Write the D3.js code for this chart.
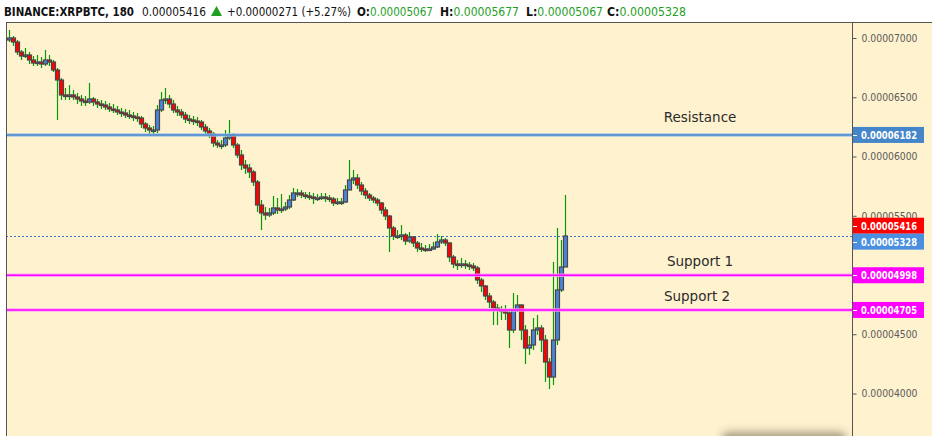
<!DOCTYPE html>
<html><head><meta charset="utf-8">
<script src="https://cdn.jsdelivr.net/npm/d3@7"></script>
<style>body{margin:0;background:#fff;overflow:hidden}svg{display:block}</style>
</head><body>
<svg id="chart" width="932" height="436"></svg>
<script>
// Prices in satoshi (1e-8 BTC)
const openSat = [6983,7000,6966,6882,6848,6856,6814,6789,6797,6780,
 6814,6797,6730,6645,6518,6510,6518,6501,6484,6467,
 6459,6484,6459,6442,6434,6417,6400,6392,6375,6366,
 6349,6341,6332,6324,6273,6239,6223,6223,6392,6476,
 6484,6442,6392,6375,6349,6315,6307,6299,6290,6248,
 6214,6189,6113,6096,6096,6155,6180,6096,6011,5927,
 5901,5867,5783,5589,5521,5504,5521,5563,5546,5555,
 5572,5631,5690,5690,5673,5665,5656,5648,5648,5656,
 5648,5639,5606,5614,5614,5715,5800,5817,5758,5707,
 5673,5648,5631,5606,5546,5496,5394,5327,5327,5335,
 5284,5318,5267,5225,5217,5208,5217,5234,5276,5293,
 5267,5149,5090,5082,5090,5082,5073,5056,4955,4904,
 4820,4769,4718,4701,4693,4676,4532,4701,4744,4532,
 4380,4406,4532,4549,4448,4262,4135,4448,4870,5067];
const highSat = [7068,7017,6983,6899,6915,6882,6848,6856,6839,6899,
 6856,6814,6746,6662,6577,6603,6561,6535,6518,6510,
 6620,6501,6484,6476,6467,6450,6442,6425,6408,6400,
 6392,6375,6366,6341,6290,6265,6256,6434,6544,6577,
 6518,6476,6425,6400,6375,6349,6341,6332,6307,6273,
 6239,6206,6138,6138,6223,6307,6197,6113,6054,5969,
 5935,5885,5800,5631,5572,5563,5665,5648,5682,5614,
 5673,5732,5724,5715,5698,5698,5690,5682,5690,5690,
 5673,5656,5648,5648,5758,5969,5885,5851,5783,5732,
 5690,5665,5648,5614,5572,5504,5411,5377,5420,5352,
 5360,5327,5284,5267,5251,5259,5276,5344,5327,5310,
 5276,5166,5124,5141,5124,5107,5099,5073,4972,4913,
 4845,4786,4752,4735,4744,4701,4845,4828,4752,4575,
 4482,4634,4659,4575,4490,4296,5107,5394,5293,5677];
const lowSat = [6966,6932,6856,6814,6831,6780,6763,6763,6746,6763,
 6763,6713,6307,6476,6476,6476,6476,6442,6425,6425,
 6442,6425,6408,6400,6392,6375,6366,6349,6332,6324,
 6315,6299,6290,6239,6206,6189,6189,6197,6375,6442,
 6408,6366,6341,6324,6282,6273,6265,6256,6223,6189,
 6155,6079,6070,6062,6079,6138,6070,5986,5885,5851,
 5817,5749,5529,5377,5462,5487,5504,5513,5521,5538,
 5555,5622,5656,5648,5639,5631,5597,5622,5631,5614,
 5614,5580,5589,5589,5606,5715,5766,5724,5673,5639,
 5622,5606,5580,5513,5462,5191,5293,5301,5293,5251,
 5268,5234,5191,5191,5191,5200,5208,5225,5259,5242,
 5107,5056,5039,5056,5048,5039,5031,4921,4853,4786,
 4718,4575,4575,4617,4617,4380,4507,4684,4448,4253,
 4321,4363,4490,4346,4101,4034,4068,4406,4853,5067];
const closeSat = [7000,6966,6882,6848,6856,6814,6789,6797,6780,6814,
 6797,6730,6645,6518,6510,6518,6501,6484,6467,6459,
 6484,6459,6442,6434,6417,6400,6392,6375,6366,6349,
 6341,6332,6324,6273,6239,6223,6223,6392,6476,6484,
 6442,6392,6375,6349,6315,6307,6299,6290,6248,6214,
 6189,6113,6096,6096,6155,6180,6096,6011,5927,5901,
 5867,5783,5589,5521,5504,5521,5563,5546,5555,5572,
 5631,5690,5690,5673,5665,5656,5648,5648,5656,5648,
 5639,5606,5614,5614,5715,5800,5817,5758,5707,5673,
 5648,5631,5606,5546,5496,5394,5327,5327,5335,5284,
 5318,5267,5225,5217,5208,5217,5234,5276,5293,5267,
 5149,5090,5082,5090,5082,5073,5056,4955,4904,4820,
 4769,4718,4701,4693,4676,4532,4701,4744,4532,4380,
 4406,4532,4549,4448,4262,4135,4448,4870,5067,5328];

const yTickValues = [4000,4500,5500,6000,6500,7000];
const levelNames = ["Resistance","Support 1","Support 2"];
const levelValues = [6182,4998,4705];
const lastPrice = 5416;
const lastClose = 5328;

// header segments: [label, value] pairs
const headerSimple = [
  {t:"BINANCE:XRPBTC, 180", bold:true, fill:"#111", x0:4, x1:134},
  {t:"0.00005416", bold:false, fill:"#111", x0:142, x1:206},
  {t:"+0.00000271 (+5.27%)", bold:false, fill:"#111", x0:227, x1:351}
];
const ohlcLabels = ["O:","H:","L:","C:"];
const ohlcValues = ["0.00005067","0.00005677","0.00005067","0.00005328"];
const ohlcX = [[357,433],[440,519],[526,603],[607,686]];

const W = 932, H = 436;
const plotL = 6, plotR = 852, plotT = 22;
const svg = d3.select("#chart");
const BG = "#FFF2CF";

svg.append("rect").attr("x",0).attr("y",0).attr("width",W).attr("height",H).attr("fill","#fff");
svg.append("rect").attr("x",plotL).attr("y",plotT).attr("width",W-plotL).attr("height",H-plotT).attr("fill",BG);

const n = closeSat.length;
const x = d3.scaleLinear().domain([0, n-1]).range([9, 565]);
const y = d3.scaleLinear().domain([3641.35, 7126.6]).range([H, 23]);

const data = d3.range(n).map(i => ({i, o:openSat[i], h:highSat[i], l:lowSat[i], c:closeSat[i]}));

const defs = svg.append("defs");
const blur = defs.append("filter").attr("id","blur").attr("x","-20%").attr("y","-100%").attr("width","140%").attr("height","300%");
blur.append("feGaussianBlur").attr("stdDeviation",4);
const clip = defs.append("clipPath").attr("id","plotclip");
clip.append("rect").attr("x",plotL+1).attr("y",plotT+1).attr("width",plotR-plotL-1).attr("height",H-plotT);

const g = svg.append("g").attr("clip-path","url(#plotclip)");

// last close dotted line
g.append("line").attr("x1",plotL).attr("x2",plotR)
  .attr("y1",Math.round(y(lastClose))+0.5).attr("y2",Math.round(y(lastClose))+0.5)
  .attr("stroke","#3f74cf").attr("stroke-width",1).attr("stroke-dasharray","2,2");

// wicks
g.append("g").selectAll("line").data(data).join("line")
  .attr("x1", d => Math.round(x(d.i))+0.5).attr("x2", d => Math.round(x(d.i))+0.5)
  .attr("y1", d => Math.round(y(d.h))).attr("y2", d => Math.round(y(d.l)))
  .attr("stroke","#079a07").attr("stroke-width",1.2);

// bodies
g.append("g").selectAll("rect").data(data).join("rect")
  .attr("x", d => Math.round(x(d.i))-1.5)
  .attr("y", d => Math.round(Math.min(y(d.o), y(d.c))))
  .attr("width", 4)
  .attr("height", d => Math.max(1.5, Math.round(Math.abs(y(d.o)-y(d.c)))))
  .attr("fill", d => d.c < d.o ? "#ff0000" : "#4a84dc")
  .attr("stroke","#474747").attr("stroke-width",1.2);

// level lines
const levelColor = ["#4a88cc","#ff00ff","#ff00ff"];
const levelHalo = ["#9cc0e8","#ff9cff","#ff9cff"];
levelValues.forEach((v,k) => {
  const yy = y(v);
  g.append("line").attr("x1",plotL).attr("x2",plotR).attr("y1",yy).attr("y2",yy)
    .attr("stroke",levelHalo[k]).attr("stroke-width",3.5).attr("stroke-opacity",0.85);
  g.append("line").attr("x1",plotL).attr("x2",plotR).attr("y1",yy).attr("y2",yy)
    .attr("stroke",levelColor[k]).attr("stroke-width",1.6);
});

// level text labels
const labelPos = [[700,122],[700,266],[697,300.5]];
levelNames.forEach((t,k) => {
  svg.append("text").attr("x",labelPos[k][0]).attr("y",labelPos[k][1])
    .attr("text-anchor","middle").attr("font-family","'DejaVu Sans', Verdana, sans-serif")
    .attr("font-size","13.5px").attr("fill","#2b2b2b").text(t);
});

// borders
svg.append("line").attr("x1",plotL).attr("x2",W).attr("y1",plotT+0.5).attr("y2",plotT+0.5).attr("stroke","#555").attr("stroke-width",1);
svg.append("line").attr("x1",plotL+0.5).attr("x2",plotL+0.5).attr("y1",plotT).attr("y2",H).attr("stroke","#555").attr("stroke-width",1);

// right axis
const fmt = v => (v*1e-8).toFixed(8);
const axis = d3.axisRight(y).tickValues(yTickValues).tickFormat(fmt).tickSize(4).tickPadding(5);
const ag = svg.append("g").attr("transform",`translate(${plotR+0.5},0)`).call(axis);
ag.select(".domain").attr("stroke","#555").attr("d",`M0,${plotT}V${H}`);
ag.selectAll(".tick line").attr("stroke","#555");
ag.selectAll(".tick text").attr("fill","#5a5a5a").attr("font-family","'DejaVu Sans', Tahoma, sans-serif")
  .attr("font-size","10.5px").attr("textLength",56).attr("lengthAdjust","spacingAndGlyphs");

// price label boxes
const boxes = [
  {v:6182, yc:y(6182), fill:"#4585c9"},
  {v:5416, yc:y(5416), fill:"#ff0000"},
  {v:5328, yc:y(5328)+5.5, fill:"#4a8fe0"},
  {v:4998, yc:y(4998), fill:"#ff00ff"},
  {v:4705, yc:y(4705), fill:"#ff00ff"}
];
const bg = svg.append("g");
boxes.forEach(b => {
  bg.append("rect").attr("x",plotR+1).attr("y",b.yc-8).attr("width",71).attr("height",16).attr("fill",b.fill);
  bg.append("line").attr("x1",plotR+1).attr("x2",plotR+5).attr("y1",Math.round(b.yc)+0.5).attr("y2",Math.round(b.yc)+0.5).attr("stroke","#fff");
  bg.append("text").attr("x",861).attr("y",b.yc+4).attr("fill","#fff")
    .attr("font-family","'DejaVu Sans', Tahoma, sans-serif").attr("font-weight","bold")
    .attr("font-size","10.5px").attr("textLength",56).attr("lengthAdjust","spacingAndGlyphs")
    .text(fmt(b.v));
});

// bottom shadow
svg.append("rect").attr("x",722).attr("y",432).attr("width",124).attr("height",14).attr("rx",6)
  .attr("fill","rgba(60,50,30,0.45)").attr("filter","url(#blur)");

// header
const hg = svg.append("g").attr("font-family","'DejaVu Sans', Tahoma, sans-serif").attr("font-size","12.5px");
headerSimple.forEach(p => {
  hg.append("text").attr("x",p.x0).attr("y",15.5)
    .attr("font-weight",p.bold?"bold":"normal")
    .attr("fill",p.fill).attr("textLength",p.x1-p.x0).attr("lengthAdjust","spacingAndGlyphs")
    .text(p.t);
});
ohlcLabels.forEach((lab,k) => {
  const [x0,x1] = ohlcX[k];
  const t = hg.append("text").attr("x",x0).attr("y",15.5)
    .attr("textLength",x1-x0).attr("lengthAdjust","spacingAndGlyphs");
  t.append("tspan").attr("font-weight","bold").attr("fill","#111").text(lab);
  t.append("tspan").attr("fill","#1fa01f").text(ohlcValues[k]);
});
hg.append("path").attr("d","M211,16L216.5,6L222,16Z").attr("fill","#1fa01f");
</script>
</body></html>
